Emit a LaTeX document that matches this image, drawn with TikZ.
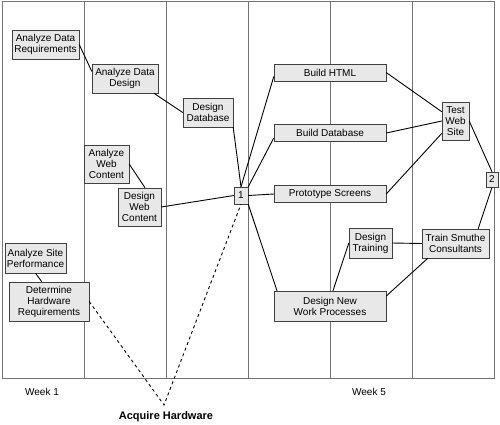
\documentclass[tikz,border=0pt]{standalone}
\usepackage{fontspec}
\setmainfont{Liberation Sans}
\usetikzlibrary{positioning}

\begin{document}
\begin{tikzpicture}[x=1pt, y=-1pt,
    task/.style={draw=black!75, fill=black!9, align=center, inner sep=0pt, font=\fontsize{10}{11}\selectfont},
    lane/.style={draw=black!55, line width=0.9pt},
    link/.style={draw=black, line width=0.9pt},
    weeklbl/.style={font=\fontsize{10}{11}\selectfont}
]
\useasboundingbox (0,0) rectangle (500,424);

\draw[lane] (2,1.5) rectangle (494,378);
\foreach \x in {84,166,248,330,412}
    \draw[lane] (\x,1.5) -- (\x,378);

\node[task, minimum width=67pt, minimum height=29pt] (adr) at (45.5,44.5) {Analyze Data\\Requirements};
\node[task, minimum width=66pt, minimum height=29pt] (add) at (125,78.5) {Analyze Data\\Design};
\node[task, minimum width=50pt, minimum height=29pt] (ddb) at (208,112.5) {Design\\Database};
\node[task, minimum width=45pt, minimum height=38pt] (awc) at (106.5,164) {Analyze\\Web\\Content};
\node[task, minimum width=43pt, minimum height=38pt] (dwc) at (139.5,207) {Design\\Web\\Content};
\node[task, minimum width=61pt, minimum height=30pt] (asp) at (35.5,258) {Analyze Site\\Performance};
\node[task, minimum width=80pt, minimum height=39pt] (dhr) at (49,301.5) {Determine\\Hardware\\Requirements};
\node[task, minimum width=14pt, minimum height=17pt] (n1) at (241,195.5) {1};
\node[task, minimum width=112pt, minimum height=17pt] (bhtml) at (330,72.5) {Build HTML};
\node[task, minimum width=112pt, minimum height=17pt] (bdb) at (330,133) {Build Database};
\node[task, minimum width=112pt, minimum height=17pt] (proto) at (330,194) {Prototype Screens};
\node[task, minimum width=112pt, minimum height=30pt] (dnwp) at (330,306) {Design New\\Work Processes};
\node[task, minimum width=43pt, minimum height=30pt] (dtr) at (370.5,243) {Design\\Training};
\node[task, minimum width=27pt, minimum height=38pt] (test) at (455.5,121) {Test\\Web\\Site};
\node[task, minimum width=67pt, minimum height=29pt] (tsc) at (455.5,243.5) {Train Smuthe\\Consultants};
\node[task, minimum width=12pt, minimum height=15pt] (n2) at (492,179.5) {2};

\coordinate (acq) at (164,405);
\node[font=\bfseries\fontsize{11}{13}\selectfont] (acqlbl) at (166,417) {Acquire Hardware};
\node[weeklbl] (wk1) at (42,392) {Week 1};
\node[weeklbl] (wk5) at (369,392) {Week 5};

\draw[link] (adr.east) -- (add.168);
\draw[link] (add.-27) -- (ddb.west);
\draw[link] (ddb.south east) -- (n1.north);
\draw[link] (awc.east) -- (dwc.74);
\draw[link] (dwc.east) -- (n1.west);
\draw[link] (asp.south) -- (dhr.110);
\draw[link] (n1.north) -- (bhtml.184);
\draw[link] (n1.north east) -- (bdb.185);
\draw[link] (n1.east) -- (proto.west);
\draw[link] (n1.south east) -- (dnwp.164);
\draw[link] (bhtml.east) -- (test.146);
\draw[link] (bdb.east) -- (test.west);
\draw[link] (proto.east) -- (test.222);
\draw[link] (test.east) -- (n2.north);
\draw[link] (tsc.33) -- (n2.south);
\draw[link] (dnwp.79) -- (dtr.west);
\draw[link] (dtr.east) -- (tsc.west);
\draw[link] (dnwp.10) -- (tsc.208);
\draw[link, dash pattern=on 3pt off 3pt] (dhr.east) -- (acq) -- (n1.south);
\end{tikzpicture}
\end{document}
